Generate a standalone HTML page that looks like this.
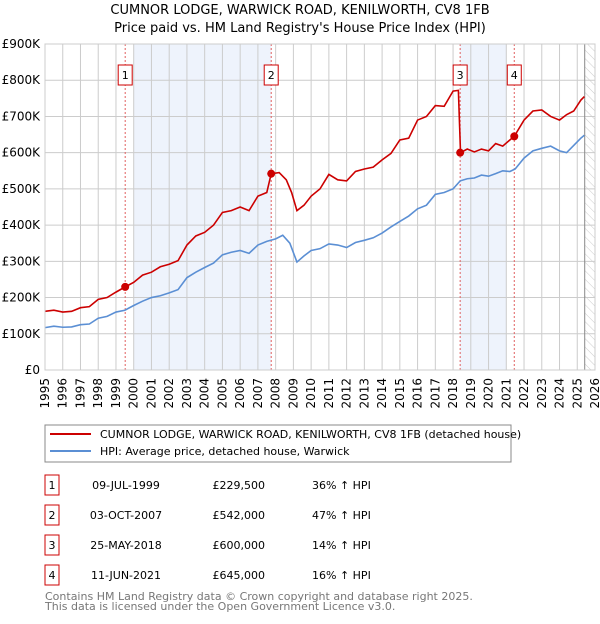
<!DOCTYPE html>
<html><head><meta charset="utf-8"><style>
body{margin:0;background:#fff;font-family:"DejaVu Sans","Liberation Sans",sans-serif}
svg text{font-family:"DejaVu Sans","Liberation Sans",sans-serif}
</style></head><body>
<svg id="c" width="600" height="620" xmlns="http://www.w3.org/2000/svg">
<defs><pattern id="hatch" width="6" height="6" patternUnits="userSpaceOnUse" patternTransform="rotate(-45)"><line x1="0" y1="0" x2="0" y2="6" stroke="#ccc" stroke-width="1"/></pattern></defs>
<text x="300" y="14" text-anchor="middle" font-size="13">CUMNOR LODGE, WARWICK ROAD, KENILWORTH, CV8 1FB</text>
<text x="300" y="32" text-anchor="middle" font-size="13">Price paid vs. HM Land Registry's House Price Index (HPI)</text>
<g id="plot"></g>
<g>
<rect x="45" y="425" width="466" height="37" fill="#fff" stroke="#888"/>
<line x1="50" y1="434" x2="91" y2="434" stroke="#cc0000" stroke-width="2"/>
<text x="100" y="438" font-size="11">CUMNOR LODGE, WARWICK ROAD, KENILWORTH, CV8 1FB (detached house)</text>
<line x1="50" y1="451" x2="91" y2="451" stroke="#5b8fd4" stroke-width="2"/>
<text x="100" y="455" font-size="11">HPI: Average price, detached house, Warwick</text>
</g>
<g id="table" font-size="11"></g>
<text x="45" y="600" font-size="11" fill="#777">Contains HM Land Registry data © Crown copyright and database right 2025.</text>
<text x="45" y="610" font-size="11" fill="#777">This data is licensed under the Open Government Licence v3.0.</text>
</svg>
<script>
const yTicks=[0,100000,200000,300000,400000,500000,600000,700000,800000,900000];
const yTickLabels=["£0","£100K","£200K","£300K","£400K","£500K","£600K","£700K","£800K","£900K"];
const hpiYears=[1995,1995.5,1996,1996.5,1997,1997.5,1998,1998.5,1999,1999.5,2000,2000.5,2001,2001.5,2002,2002.5,2003,2003.5,2004,2004.5,2005,2005.5,2006,2006.5,2007,2007.5,2008,2008.4,2008.8,2009.2,2009.6,2010,2010.5,2011,2011.5,2012,2012.5,2013,2013.5,2014,2014.5,2015,2015.5,2016,2016.5,2017,2017.5,2018,2018.4,2018.8,2019.2,2019.6,2020,2020.4,2020.8,2021.2,2021.5,2022,2022.5,2023,2023.5,2024,2024.4,2024.8,2025.2,2025.4];
const hpiValues=[117,121,118,119,125,127,143,148,160,165,178,190,200,205,213,222,255,270,283,295,318,325,330,322,345,355,362,372,350,298,315,330,335,348,345,338,352,358,365,378,395,410,425,445,455,485,490,500,522,528,530,538,535,542,550,548,555,585,605,612,618,605,600,620,640,648];
const redYears=[1995,1995.5,1996,1996.5,1997,1997.5,1998,1998.5,1999,1999.52,2000,2000.5,2001,2001.5,2002,2002.5,2003,2003.5,2004,2004.5,2005,2005.5,2006,2006.5,2007,2007.5,2007.75,2008.2,2008.6,2008.9,2009.2,2009.6,2010,2010.5,2011,2011.5,2012,2012.5,2013,2013.5,2014,2014.5,2015,2015.5,2016,2016.5,2017,2017.5,2018,2018.3,2018.42,2018.8,2019.2,2019.6,2020,2020.4,2020.8,2021.2,2021.45,2022,2022.5,2023,2023.5,2024,2024.4,2024.8,2025.2,2025.4];
const redValues=[162,165,160,162,172,175,195,200,215,229.5,242,262,270,285,292,302,345,370,380,400,435,440,450,440,480,490,542,545,525,490,440,455,480,500,540,525,522,548,555,560,580,598,635,640,690,700,730,728,770,772,600,610,602,610,605,625,618,635,645,690,715,718,700,690,705,715,745,755];
const saleYears=[1999.52,2007.75,2018.4,2021.45];
const saleValues=[229500,542000,600000,645000];
const saleLabels=["1","2","3","4"];
const saleDates=["09-JUL-1999","03-OCT-2007","25-MAY-2018","11-JUN-2021"];
const salePrices=["£229,500","£542,000","£600,000","£645,000"];
const saleHpi=["36% ↑ HPI","47% ↑ HPI","14% ↑ HPI","16% ↑ HPI"];
const shadeRanges=[[2000,2007.75],[2018.4,2021.0]];
const xYears=[];for(let y=1995;y<=2026;y++)xYears.push(y);

const X0=45,X1=595,Y0=370,Y1=44;
const xs=y=>X0+(y-1995)*(X1-X0)/31;
const ys=v=>Y0-v*(Y0-Y1)/900000;
const NS="http://www.w3.org/2000/svg";
const plot=document.getElementById('plot');
function mk(tag,attrs,parent){const e=document.createElementNS(NS,tag);for(const k in attrs)e.setAttribute(k,attrs[k]);(parent||plot).appendChild(e);return e;}

const bg=mk('rect',{x:X0,y:Y1,width:X1-X0,height:Y0-Y1,fill:'#fff'});


shadeRanges.forEach(r=>{
  const s=mk('rect',{x:xs(r[0]),y:Y1,width:xs(r[1])-xs(r[0]),height:Y0-Y1,fill:'#eef3fc'});
  
  
});
const hx=xs(2025.42);
const hr=mk('rect',{x:hx,y:Y1,width:X1-hx,height:Y0-Y1,fill:'url(#hatch)'});


xYears.forEach(y=>{
  const l=mk('line',{x1:xs(y),x2:xs(y),y1:Y1,y2:Y0,stroke:'#ccc','stroke-width':1});
  
  
  const t=mk('text',{x:0,y:0,'font-size':12,'text-anchor':'end',transform:`translate(${xs(y)+4},${Y0+8}) rotate(-90)`});
  t.textContent=y;
  
  
});
yTicks.forEach((v,i)=>{
  const l=mk('line',{x1:X0,x2:X1,y1:ys(v),y2:ys(v),stroke:'#ccc','stroke-width':1});
  
  
  const t=mk('text',{x:X0-5,y:ys(v)+4,'font-size':12,'text-anchor':'end'});
  t.textContent=yTickLabels[i];
  
  
});
const vl=mk('line',{x1:hx,x2:hx,y1:Y1,y2:Y0,stroke:'#888','stroke-width':1});


saleYears.forEach((y,i)=>{
  const d=mk('line',{x1:xs(y),x2:xs(y),y1:Y1,y2:Y0,stroke:'#e06060','stroke-width':1,'stroke-dasharray':'2,2'});
  
  
});
const hp=mk('polyline',{points:hpiYears.map((y,i)=>xs(y)+','+ys(hpiValues[i]*1000)).join(' '),fill:'none',stroke:'#5b8fd4','stroke-width':1.6});


const rp=mk('polyline',{points:redYears.map((y,i)=>xs(y)+','+ys(redValues[i]*1000)).join(' '),fill:'none',stroke:'#cc0000','stroke-width':1.6});


saleYears.forEach((y,i)=>{
  const c=mk('circle',{cx:xs(y),cy:ys(saleValues[i]),r:4,fill:'#cc0000'});
  
  
  const b=mk('rect',{x:xs(y)-7,y:65,width:14,height:20,fill:'#fff',stroke:'#cc0000'});
  
  
  const t=mk('text',{x:xs(y),y:79,'font-size':11,'text-anchor':'middle'});
  t.textContent=saleLabels[i];
  
  
});
const ax=mk('rect',{x:X0,y:Y1,width:X1-X0,height:Y0-Y1,fill:'none',stroke:'#ccc'});



const tbl=document.getElementById('table');
saleLabels.forEach((s,i)=>{
  const cy=485+i*30;
  const b=mk('rect',{x:45,y:cy-10,width:14,height:20,fill:'#fff',stroke:'#cc0000'},tbl);
  
  
  const cells=[[52,'middle',s,'table-marker'],[126,'middle',saleDates[i],'sale-date'],[265,'end',salePrices[i],'sale-price'],[312,'start',saleHpi[i],'sale-hpi-diff']];
  cells.forEach(c=>{
    const t=mk('text',{x:c[0],y:cy+4,'text-anchor':c[1],'font-size':11},tbl);
    t.textContent=c[2];
    
    
  });
});
</script>
</body></html>
